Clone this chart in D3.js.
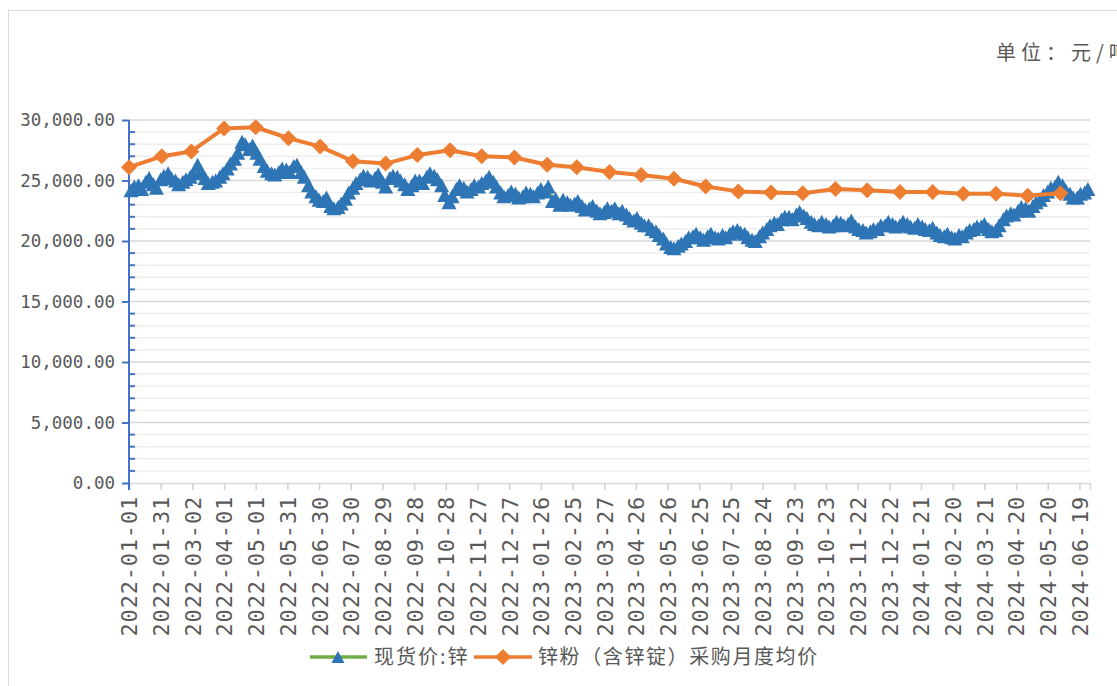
<!DOCTYPE html>
<html>
<head>
<meta charset="utf-8">
<script src="https://cdn.jsdelivr.net/npm/d3@7"></script>
<style>
  html, body { margin: 0; padding: 0; background: #ffffff; }
  svg { display: block; }
</style>
</head>
<body>
<svg id="chart" width="1117" height="686"></svg>
<script>
// ---------------- DATA ----------------
const seriesNames = ["现货价:锌", "锌粉（含锌锭）采购月度均价"];
const unitLabel = "单位：元/吨";

// x-axis tick labels (every 30 days)
const xTickLabels = [
  "2022-01-01","2022-01-31","2022-03-02","2022-04-01","2022-05-01","2022-05-31",
  "2022-06-30","2022-07-30","2022-08-29","2022-09-28","2022-10-28","2022-11-27",
  "2022-12-27","2023-01-26","2023-02-25","2023-03-27","2023-04-26","2023-05-26",
  "2023-06-25","2023-07-25","2023-08-24","2023-09-23","2023-10-23","2023-11-22",
  "2023-12-22","2024-01-21","2024-02-20","2024-03-21","2024-04-20","2024-05-20",
  "2024-06-19"
];
const yTickValues = [0, 5000, 10000, 15000, 20000, 25000, 30000];

// monthly purchase average (orange)
const monthLabels = [
  "2022-01","2022-02","2022-03","2022-04","2022-05","2022-06","2022-07","2022-08",
  "2022-09","2022-10","2022-11","2022-12","2023-01","2023-02","2023-03","2023-04",
  "2023-05","2023-06","2023-07","2023-08","2023-09","2023-10","2023-11","2023-12",
  "2024-01","2024-02","2024-03","2024-04","2024-05","2024-06"
];
const monthlyAvg = [
  26100, 27000, 27400, 29300, 29400, 28500, 27800, 26600,
  26400, 27100, 27500, 27000, 26900, 26300, 26100, 25700,
  25450, 25150, 24500, 24100, 24000, 23950, 24300, 24200,
  24050, 24050, 23900, 23900, 23750, 23950
];

// spot price (blue), twice a week (Mon / Thu) from 2022-01-03
const spotStart = "2022-01-03";
const spotValues = [
  24200,24500, 24600,24300, 24900,25200, 24700,24400, 25100,25400,
  25600,25200, 25000,24700, 24900,25100, 25300,25600, 26300,25700,
  25200,24800, 24900,25000, 25300,25600, 26000,26400, 26800,27300,
  28200,28000, 27600,27900, 27300,26800, 26200,25800, 25600,25500,
  25700,26000, 25900,25700, 26200,26300, 25700,25300, 24600,24100,
  23700,23400, 23300,23600, 22900,22700, 22800,23100, 23500,24000,
  24400,24800, 25100,25400, 25300,25000, 25200,25500, 24900,24500,
  25200,25400, 25300,25000, 24700,24300, 24600,25000, 25000,24800,
  25300,25600, 25400,25100, 24600,23800, 23200,23700, 24300,24600,
  24400,24100, 24300,24600, 24500,24800, 25000,25300, 24900,24500,
  24000,23700, 23800,24100, 23900,23600, 23700,24000, 23900,23700,
  24000,24300, 24100,24500, 23300,23500, 23000,23400, 23200,23000,
  23100,23300, 22900,22600, 22700,22900, 22500,22300, 22400,22700,
  22500,22700, 22300,22500, 22200,21900, 21700,21900, 21500,21300,
  21300,21000, 20800,20500, 20200,19800, 19500,19400, 19600,19800,
  20000,20300, 20400,20600, 20300,20100, 20400,20600, 20300,20200,
  20500,20300, 20600,20800, 20900,20700, 20600,20300, 20100,20000,
  20400,20700, 21000,21300, 21500,21400, 21800,22000, 22000,21800,
  22200,22400, 22100,21900, 21600,21400, 21300,21600, 21400,21200,
  21300,21600, 21500,21300, 21400,21700, 21200,21000, 20900,20700,
  20800,21000, 21000,21300, 21300,21600, 21400,21200, 21300,21600,
  21400,21200, 21100,21400, 21200,21000, 20900,21100, 20700,20500,
  20400,20600, 20300,20200, 20500,20400, 20700,20900, 21000,21200,
  21200,21400, 21000,20800, 20900,21300, 21800,22100, 22300,22200,
  22500,22800, 22700,22500, 22900,23200, 23400,23800, 24100,24400,
  24500,24900, 24600,24200, 23900,23600, 23600,23900, 24000,24300
];

// ---------------- DRAW ----------------
const svg = d3.select("#chart");
const W = 1117, H = 686;
const L = 129, R = 1090, T = 120, B = 483;
const textColor = "#595959";
const parseDay = d3.utcParse("%Y-%m-%d");
const parseMonth = d3.utcParse("%Y-%m");

const x = d3.scaleUtc()
  .domain([parseDay("2022-01-01"), parseDay("2024-06-29")])
  .range([L, R]);
const y = d3.scaleLinear().domain([0, 30000]).range([B, T]);

// outer frame
svg.append("rect")
  .attr("x", 8.5).attr("y", 10.5)
  .attr("width", W).attr("height", H)
  .attr("fill", "none").attr("stroke", "#d9d9d9").attr("stroke-width", 1);

// gridlines
const gridVals = d3.range(1000, 30001, 1000);
svg.append("g").selectAll("line").data(gridVals).join("line")
  .attr("x1", L).attr("x2", R)
  .attr("y1", d => y(d)).attr("y2", d => y(d))
  .attr("stroke", d => d % 5000 === 0 ? "#d9d9d9" : "#eeeeee")
  .attr("stroke-width", 1.5);

// x axis
const xTicks = xTickLabels.map(parseDay);
const xAxis = d3.axisBottom(x)
  .tickValues(xTicks)
  .tickSize(7)
  .tickPadding(12)
  .tickFormat(d3.utcFormat("%Y-%m-%d"));
const gx = svg.append("g").attr("transform", `translate(0,${B})`).call(xAxis);
gx.select(".domain").attr("stroke", "#d9d9d9").attr("stroke-width", 1.5);
gx.selectAll(".tick line").attr("stroke", "#d0d0d0").attr("stroke-width", 1.5);
gx.selectAll(".tick text")
  .attr("fill", textColor)
  .style("font-family", "'DejaVu Sans Mono', monospace")
  .style("font-size", "22px")
  .style("letter-spacing", "0.8px")
  .attr("text-anchor", "end")
  .attr("transform", "rotate(-90)")
  .attr("x", -13).attr("y", 0)
  .attr("dy", "0.36em");

// y axis
const yAxis = d3.axisLeft(y)
  .tickValues(yTickValues)
  .tickSize(7)
  .tickPadding(7)
  .tickFormat(d3.format(",.2f"));
const gy = svg.append("g").attr("transform", `translate(${L},0)`).call(yAxis);
gy.select(".domain").remove();
gy.selectAll(".tick line").attr("stroke", "#4472c4").attr("stroke-width", 2);
gy.selectAll(".tick text")
  .attr("fill", textColor)
  .style("font-family", "'DejaVu Sans Mono', monospace")
  .style("font-size", "17.5px");
// minor y ticks (inside)
const minorVals = gridVals.filter(d => d % 5000 !== 0);
svg.append("g").selectAll("line").data(minorVals).join("line")
  .attr("x1", L).attr("x2", L + 6)
  .attr("y1", d => y(d)).attr("y2", d => y(d))
  .attr("stroke", "#4472c4").attr("stroke-width", 2);
svg.append("line")
  .attr("x1", L).attr("x2", L)
  .attr("y1", T).attr("y2", B + 7)
  .attr("stroke", "#4472c4").attr("stroke-width", 2);

// spot series (green line + blue triangles)
const spotData = spotValues.map((v, i) => ({
  date: d3.utcDay.offset(parseDay(spotStart), Math.floor(i / 2) * 7 + (i % 2) * 3),
  value: v
}));
const triPath = "M0,-7L7.5,7L-7.5,7Z";
const legTriPath = "M0,-6L6.5,6L-6.5,6Z";
const diaPath = "M0,-8L8,0L0,8L-8,0Z";

const line = d3.line().x(d => x(d.date)).y(d => y(d.value));
svg.append("path").datum(spotData)
  .attr("d", line)
  .attr("fill", "none").attr("stroke", "#70ad47").attr("stroke-width", 2.5);
svg.append("g").selectAll("path").data(spotData).join("path")
  .attr("d", triPath)
  .attr("transform", d => `translate(${x(d.date)},${y(d.value)})`)
  .attr("fill", "#2e75b6");

// monthly average series (orange)
const avgData = monthlyAvg.map((v, i) => ({ date: parseMonth(monthLabels[i]), value: v }));
svg.append("path").datum(avgData)
  .attr("d", line)
  .attr("fill", "none").attr("stroke", "#ed7d31").attr("stroke-width", 4)
  .attr("stroke-linejoin", "round");
svg.append("g").selectAll("path").data(avgData).join("path")
  .attr("d", diaPath)
  .attr("transform", d => `translate(${x(d.date)},${y(d.value)})`)
  .attr("fill", "#ed7d31");

// unit label
svg.append("text")
  .attr("x", 996).attr("y", 60)
  .attr("fill", textColor)
  .style("font-family", "'Noto Sans CJK SC', sans-serif")
  .style("font-size", "20px")
  .style("letter-spacing", "5px")
  .text(unitLabel);

// legend
const legY = 657;
const leg = svg.append("g");
leg.append("line").attr("x1", 310).attr("x2", 367).attr("y1", legY).attr("y2", legY)
  .attr("stroke", "#70ad47").attr("stroke-width", 3.5);
leg.append("path").attr("d", legTriPath).attr("transform", `translate(338,${legY})`).attr("fill", "#2e75b6");
leg.append("text").attr("x", 374).attr("y", legY).attr("dy", "0.36em")
  .attr("fill", textColor)
  .style("font-family", "'Noto Sans CJK SC', sans-serif")
  .style("font-size", "20px")
  .style("letter-spacing", "2px")
  .text(seriesNames[0]);
leg.append("line").attr("x1", 474).attr("x2", 532).attr("y1", legY).attr("y2", legY)
  .attr("stroke", "#ed7d31").attr("stroke-width", 3.5);
leg.append("path").attr("d", diaPath).attr("transform", `translate(503,${legY})`).attr("fill", "#ed7d31");
leg.append("text").attr("x", 538).attr("y", legY).attr("dy", "0.36em")
  .attr("fill", textColor)
  .style("font-family", "'Noto Sans CJK SC', sans-serif")
  .style("font-size", "20px")
  .style("letter-spacing", "1.6px")
  .text(seriesNames[1]);
</script>
</body>
</html>
